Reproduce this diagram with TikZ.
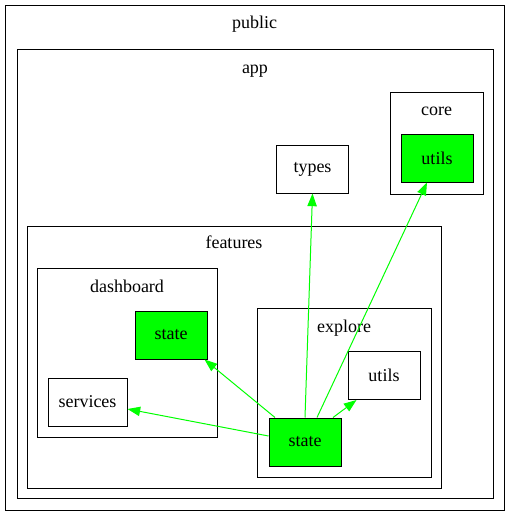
\documentclass[tikz,border=0pt]{standalone}
\usepackage{fontspec}
\setmainfont{Liberation Serif}
\usetikzlibrary{arrows.meta,fit,calc}
\definecolor{edgegreen}{RGB}{0,255,0}
\begin{document}
\begin{tikzpicture}[x=0.75pt,y=-0.75pt,
  font=\fontsize{13.5pt}{16pt}\selectfont,
  cluster/.style={draw=black,line width=0.75pt,inner sep=0pt},
  leaf/.style={draw=black,line width=0.75pt,inner sep=0pt,
    minimum width=54pt,minimum height=36pt},
  hot/.style={leaf,fill=edgegreen},
  title/.style={inner sep=0pt,anchor=base},
  dep/.style={draw=edgegreen,line width=0.75pt,
    -{Triangle[length=9.5pt,width=7pt,fill=edgegreen]}}]
  \useasboundingbox (0,0) rectangle (509,515);
  % nested clusters
  \node[cluster,fit={(5,5) (504,510)}] (public) {};
  \node[cluster,fit={(17,49) (493,498)}] (app) {};
  \node[cluster,fit={(390,92) (483,194)}] (core) {};
  \node[cluster,fit={(27,226) (441,488)}] (features) {};
  \node[cluster,fit={(37,268) (217,437)}] (dashboard) {};
  \node[cluster,fit={(257,308) (431,477)}] (explore) {};
  % cluster titles
  \node[title] (publicT) at (254.5,28) {public};
  \node[title] (appT) at (255,73) {app};
  \node[title] (coreT) at (436.5,115) {core};
  \node[title] (featuresT) at (234,248) {features};
  \node[title] (dashboardT) at (127,292) {dashboard};
  \node[title] (exploreT) at (344,332) {explore};
  % modules
  \node[hot] (cutils) at (437,158) {utils};
  \node[leaf] (types) at (312.5,169) {types};
  \node[hot] (dstate) at (171,335) {state};
  \node[leaf,minimum width=59.25pt] (services) at (87.5,402) {services};
  \node[leaf] (eutils) at (384,375.5) {utils};
  \node[hot] (estate) at (305,442) {state};
  % dependencies of explore/state
  \draw[dep] (estate.north) -- (types.south);
  \draw[dep] ($(estate.north)+(12,0)$) -- ($(cutils.south)+(-10,0)$);
  \draw[dep] ($(estate.north)+(28,0)$) -- ($(eutils.south west)+(9,0)$);
  \draw[dep] ($(estate.north)+(-30,0)$) -- ($(dstate.south east)+(-3,0)$);
  \draw[dep] ($(estate.west)+(0,-6)$) -- ($(services.east)+(0,7)$);
\end{tikzpicture}
\end{document}
